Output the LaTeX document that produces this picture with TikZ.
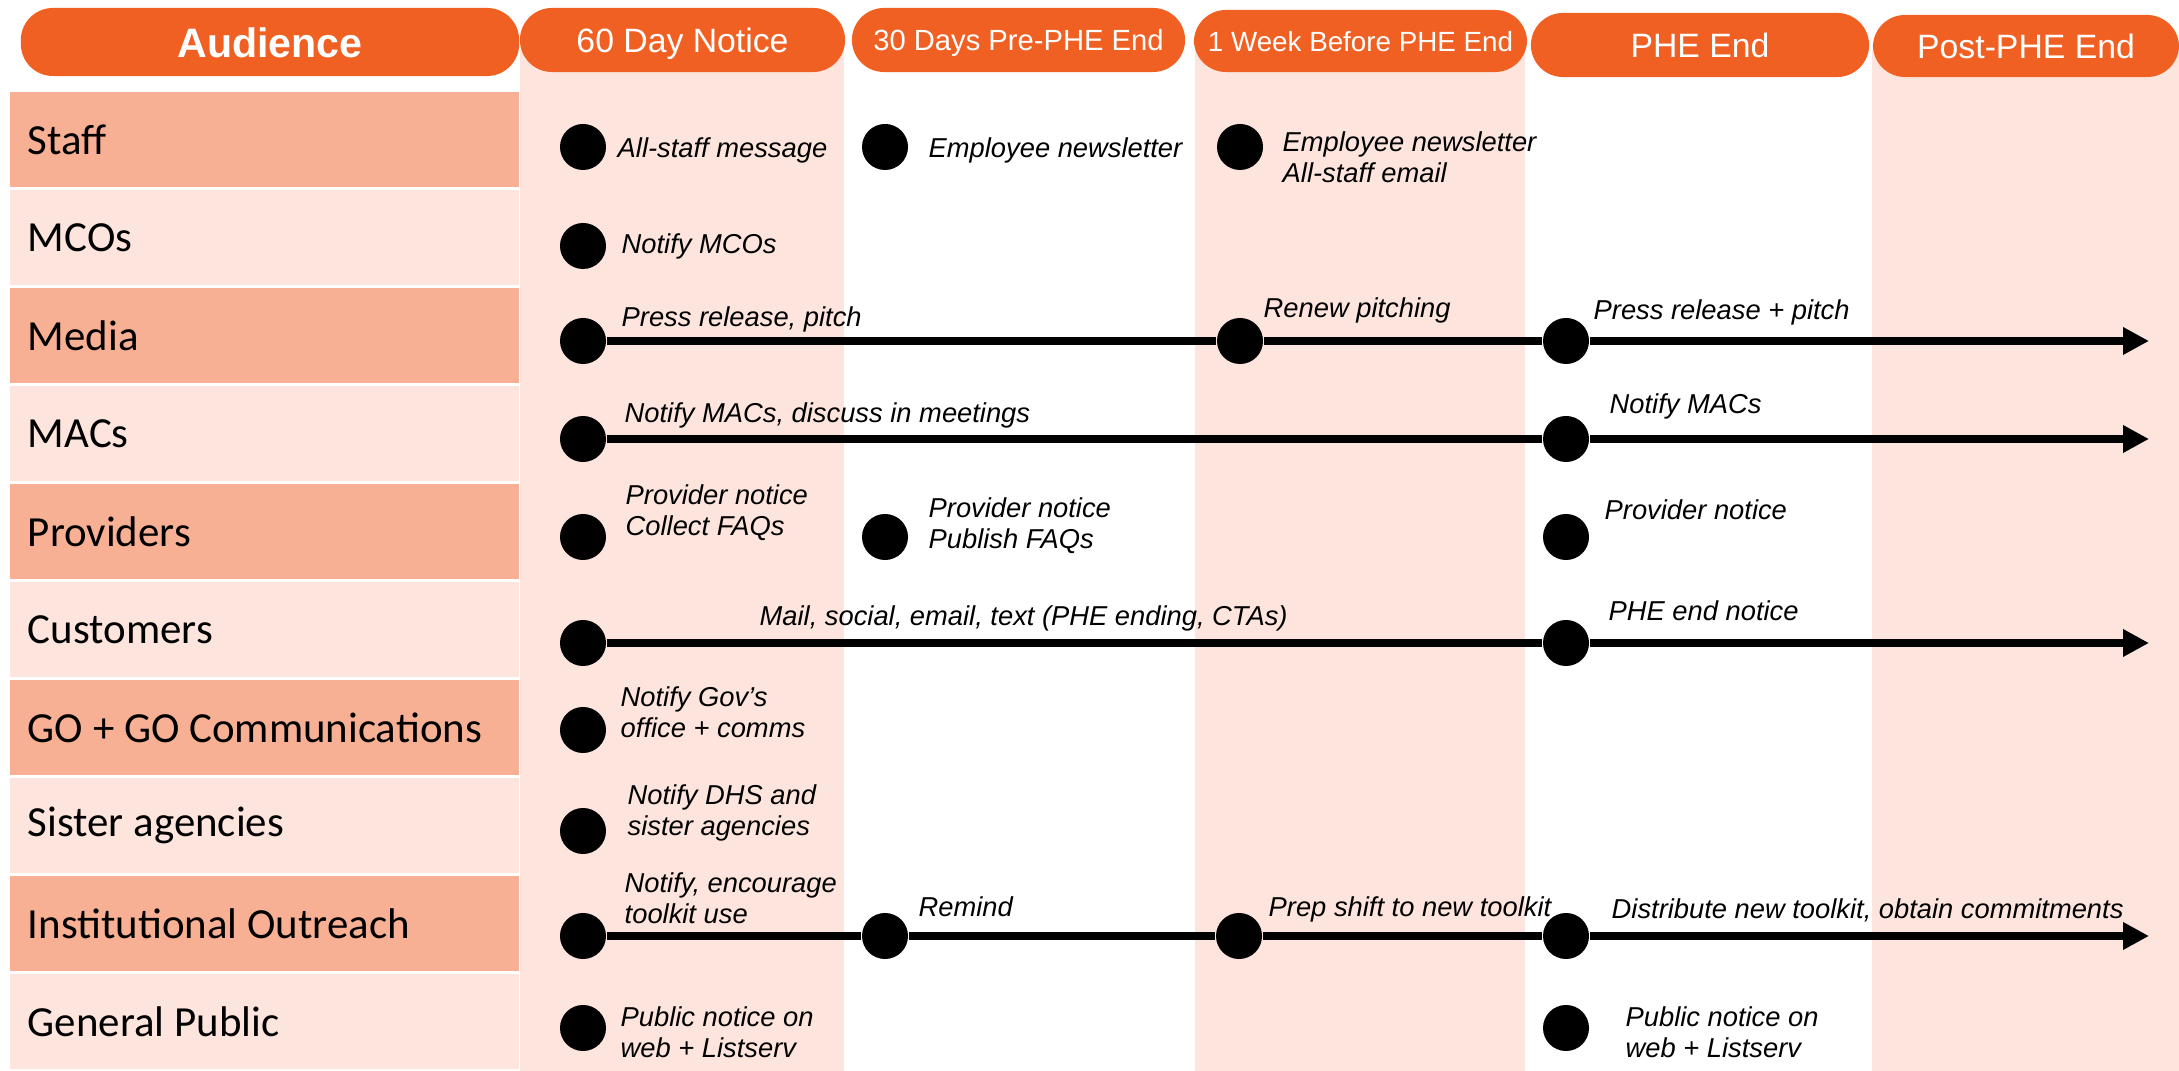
\documentclass[tikz,border=0pt]{standalone}
\usepackage{fontspec}
\setmainfont{Liberation Sans}
\newfontfamily\carl{Carlito}
\usetikzlibrary{arrows.meta}
\definecolor{hdr}{RGB}{241,96,35}
\definecolor{rowdark}{RGB}{247,176,148}
\definecolor{rowlight}{RGB}{253,229,221}
\definecolor{colpink}{RGB}{253,229,221}
\begin{document}
\begin{tikzpicture}[x=0.01cm,y=-0.01cm,
  pill/.style={fill=hdr, rounded corners=0.32cm, inner sep=0, text=white, text height=7pt, text depth=0pt, font=\fontsize{9.6}{11}\selectfont},
  rowbox/.style={minimum height=0.95cm, text width=4.73cm, inner xsep=0.18cm, inner ysep=0, align=flush left, font=\carl\fontsize{12.2}{14}\selectfont},
  dot/.style={circle, fill=black, minimum size=0.46cm, inner sep=0},
  note/.style={anchor=west, inner sep=0, align=left, font=\itshape\fontsize{7.77}{8.8}\selectfont},
  tl/.style={line width=0.08cm},
  tla/.style={line width=0.08cm, -{Triangle[length=0.26cm,width=0.26cm]}}
]
\path[use as bounding box] (0,0) rectangle (2179,1071);
% column shading
\fill[colpink] (520,50) rectangle (844,1071);
\fill[colpink] (1195,50) rectangle (1525,1071);
\fill[colpink] (1872,50) rectangle (2179,1071);
% header pills
\node[pill, minimum width=4.98cm, minimum height=0.68cm, text height=8.6pt, font=\bfseries\fontsize{11.7}{13}\selectfont] (hA) at (270,42) {Audience};
\node[pill, minimum width=3.25cm, minimum height=0.64cm] (h1) at (682.5,40) {60 Day Notice};
\node[pill, minimum width=3.33cm, minimum height=0.64cm, text height=6pt, font=\fontsize{8.3}{10}\selectfont] (h2) at (1018.5,40) {30 Days Pre-PHE End};
\node[pill, minimum width=3.33cm, minimum height=0.62cm, text height=5.7pt, font=\fontsize{7.9}{10}\selectfont] (h3) at (1360.5,41) {1 Week Before PHE End};
\node[pill, minimum width=3.38cm, minimum height=0.64cm] (h4) at (1700,45) {PHE End};
\node[pill, minimum width=3.06cm, minimum height=0.62cm] (h5) at (2026,46) {Post-PHE End};
% row labels
\node[rowbox, fill=rowdark]  (rStaff) at (264.5,139.5) {Staff};
\node[rowbox, fill=rowlight] (rMCO)   at (264.5,237.5) {MCOs};
\node[rowbox, fill=rowdark]  (rMedia) at (264.5,335.5) {Media};
\node[rowbox, fill=rowlight] (rMAC)   at (264.5,433.5) {MACs};
\node[rowbox, fill=rowdark]  (rProv)  at (264.5,531.5) {Providers};
\node[rowbox, fill=rowlight] (rCust)  at (264.5,629.5) {Customers};
\node[rowbox, fill=rowdark]  (rGO)    at (264.5,727.5) {GO + GO Communications};
\node[rowbox, fill=rowlight] (rSis)   at (264.5,825.5) {Sister agencies};
\node[rowbox, fill=rowdark]  (rInst)  at (264.5,923.5) {Institutional Outreach};
\node[rowbox, fill=rowlight] (rGP)    at (264.5,1021.5) {General Public};
% dots
\node[dot] (s1) at (583,147) {};
\node[dot] (s2) at (885,147) {};
\node[dot] (s3) at (1240,147) {};
\node[dot] (c1) at (583,246) {};
\node[dot] (m1) at (583,341) {};
\node[dot] (m3) at (1240,341) {};
\node[dot] (m4) at (1566,341) {};
\node[dot] (a1) at (583,439) {};
\node[dot] (a4) at (1566,439) {};
\node[dot] (p1) at (583,537) {};
\node[dot] (p2) at (885,537) {};
\node[dot] (p4) at (1566,537) {};
\node[dot] (u1) at (583,643) {};
\node[dot] (u4) at (1566,643) {};
\node[dot] (g1) at (583,730) {};
\node[dot] (r1) at (583,831) {};
\node[dot] (i1) at (583,936) {};
\node[dot] (i2) at (885,936) {};
\node[dot] (i3) at (1239,936) {};
\node[dot] (i4) at (1566,936) {};
\node[dot] (h1d) at (583,1028) {};
\node[dot] (h4d) at (1566,1028) {};
% arrow ends
\coordinate (eM) at (2149,341);
\coordinate (eA) at (2149,439);
\coordinate (eU) at (2149,643);
\coordinate (eI) at (2149,936);
% timelines
\draw[tl] (m1) -- (m3);
\draw[tl] (m3) -- (m4);
\draw[tla] (m4) -- (eM);
\draw[tl] (a1) -- (a4);
\draw[tla] (a4) -- (eA);
\draw[tl] (u1) -- (u4);
\draw[tla] (u4) -- (eU);
\draw[tl] (i1) -- (i2);
\draw[tl] (i2) -- (i3);
\draw[tl] (i3) -- (i4);
\draw[tla] (i4) -- (eI);
% notes
\node[note] (t1) at (617,150) {All-staff message};
\node[note] (t2) at (928,150) {Employee newsletter};
\node[note] (t3) at (1282,157) {Employee newsletter\\All-staff email};
\node[note] (t4) at (621,246) {Notify MCOs};
\node[note] (t5) at (621,319) {Press release, pitch};
\node[note] (t6) at (1263,310) {Renew pitching};
\node[note] (t7) at (1593,312) {Press release + pitch};
\node[note] (t8) at (624,415) {Notify MACs, discuss in meetings};
\node[note] (t9) at (1609,406) {Notify MACs};
\node[note] (t10) at (625,513) {Provider notice\\Collect FAQs};
\node[note] (t11) at (928,526) {Provider notice\\Publish FAQs};
\node[note] (t12) at (1604,510) {Provider notice};
\node[note] (t13) at (759,618) {Mail, social, email, text (PHE ending, CTAs)};
\node[note] (t14) at (1608,611) {PHE end notice};
\node[note] (t15) at (620,712) {Notify Gov’s\\office + comms};
\node[note] (t16) at (627,813) {Notify DHS and\\sister agencies};
\node[note] (t17) at (624,898) {Notify, encourage\\toolkit use};
\node[note] (t18) at (918,907) {Remind};
\node[note] (t19) at (1268,909) {Prep shift to new toolkit};
\node[note] (t20) at (1611,910) {Distribute new toolkit, obtain commitments};
\node[note] (t21) at (620,1032) {Public notice on\\web + Listserv};
\node[note] (t22) at (1625,1032) {Public notice on\\web + Listserv};
\end{tikzpicture}
\end{document}
